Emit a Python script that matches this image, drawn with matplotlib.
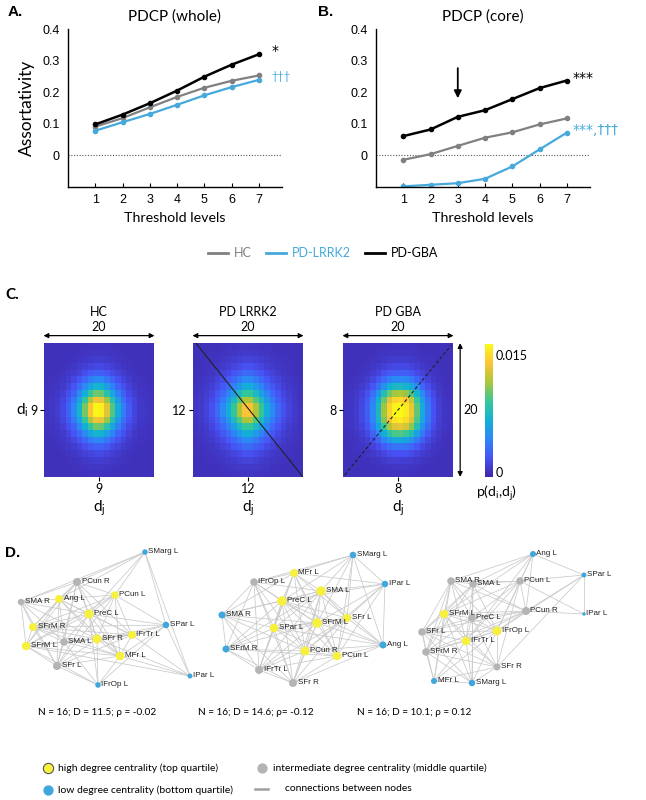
import numpy as np
import matplotlib.pyplot as plt
from matplotlib.colors import LinearSegmentedColormap
from matplotlib.lines import Line2D

# ---- panel A / B data ----
thresholds = [1, 2, 3, 4, 5, 6, 7]
whole_hc = [0.091, 0.118, 0.152, 0.185, 0.214, 0.236, 0.253]
whole_lrrk2 = [0.078, 0.105, 0.131, 0.160, 0.190, 0.216, 0.239]
whole_gba = [0.098, 0.129, 0.165, 0.205, 0.249, 0.287, 0.320]
core_hc = [-0.014, 0.004, 0.030, 0.056, 0.073, 0.098, 0.117]
core_lrrk2 = [-0.098, -0.093, -0.088, -0.074, -0.035, 0.019, 0.072]
core_gba = [0.061, 0.082, 0.122, 0.143, 0.178, 0.213, 0.237]

# ---- panel C data: row / column profiles of p(di,dj), peak amplitude ----
hc_rows = [0.01, 0.02, 0.04, 0.08, 0.15, 0.26, 0.41, 0.60, 0.80, 0.95,
           0.95, 0.80, 0.60, 0.41, 0.26, 0.15, 0.08, 0.04, 0.02, 0.01]
hc_cols = [0.01, 0.02, 0.04, 0.08, 0.15, 0.26, 0.42, 0.62, 0.82, 0.96,
           0.94, 0.78, 0.57, 0.38, 0.23, 0.13, 0.07, 0.03, 0.02, 0.01]
lrrk2_rows = [0.02, 0.04, 0.07, 0.12, 0.20, 0.30, 0.43, 0.60, 0.78, 0.93,
              0.93, 0.78, 0.60, 0.43, 0.30, 0.20, 0.12, 0.07, 0.04, 0.02]
lrrk2_cols = [0.02, 0.04, 0.07, 0.12, 0.20, 0.30, 0.43, 0.60, 0.78, 0.93,
              0.93, 0.78, 0.60, 0.43, 0.30, 0.20, 0.12, 0.07, 0.04, 0.02]
gba_rows = [0.01, 0.02, 0.04, 0.08, 0.15, 0.27, 0.45, 0.70, 0.90, 0.99,
            1.00, 0.95, 0.80, 0.58, 0.37, 0.21, 0.11, 0.05, 0.02, 0.01]
gba_cols = [0.01, 0.02, 0.04, 0.08, 0.15, 0.27, 0.45, 0.68, 0.88, 0.98,
            1.00, 0.95, 0.82, 0.60, 0.38, 0.22, 0.11, 0.05, 0.02, 0.01]
peaks = [0.0178, 0.0160, 0.0166]
background = 0.0
heat_titles = ['HC', 'PD LRRK2', 'PD GBA']
peak_degree = ['9', '12', '8']

# ---- panel D data: node names, layout (px), class, adjacency (j > i) ----
names_hc = ['SMarg L', 'PCun R', 'PCun L', 'SMA R', 'Ang L', 'PreC L', 'SPar L', 'SFrM R',
            'SMA L', 'SFr R', 'IFrTr L', 'SFrM L', 'MFr L', 'SFr L', 'IFrOp L', 'IPar L']
x_hc = [145, 77, 115, 21, 59, 89, 166, 33, 64, 97, 132, 26, 120, 57, 98, 190]
y_hc = [552, 582, 595, 602, 599, 614, 625, 627, 642, 639, 635, 646, 656, 666, 685, 676]
cls_hc = "lmhmhhlhmhhhhmll"
adj_hc = ["1 2 3 4 5 6 15", "2 3 4 5 7 8 9 10 11 12 13", "4 5 6 7 9 10 11 12 13",
          "4 5 7 8 9 11 13", "5 7 8 9 10 11 12 13", "6 7 8 9 10 11 12 13 14",
          "7 9 10 12 14 15", "8 9 10 11 12 13", "9 10 11 12 13 14", "10 11 12 13 14 15",
          "11 12 13 15", "12 13 14 15", "13 14 15", "14", "", ""]

names_lr = ['SMarg L', 'MFr L', 'IFrOp L', 'IPar L', 'SMA L', 'PreC L', 'SMA R', 'SFr L',
            'SFrM L', 'SPar L', 'SFrM R', 'PCun R', 'PCun L', 'Ang L', 'IFrTr L', 'SFr R']
x_lr = [353, 294, 254, 385, 321, 282, 222, 347, 317, 274, 226, 305, 337, 383, 259, 293]
y_lr = [555, 573, 582, 584, 591, 601, 615, 618, 623, 628, 649, 651, 656, 645, 670, 683]
cls_lr = "lhmlhhlhhhlhhlmm"
adj_lr = ["1 2 3 4 5 7 8 12 13", "2 3 4 5 6 7 8 9 11 12 14", "4 5 6 8 9 10 11 14 15",
          "4 5 7 8 11 12 13", "5 6 7 8 9 10 11 12 13 14 15", "6 7 8 9 10 11 12 13 14 15",
          "8 9 10 11 14 15", "8 9 11 12 13 14 15", "9 10 11 12 13 14 15",
          "10 11 12 13 14 15", "11 12 14 15", "12 13 14 15", "13 14 15", "15", "15", ""]

names_gba = ['Ang L', 'SPar L', 'SMA R', 'SMA L', 'PCun L', 'PCun R', 'IPar L', 'SFrM L',
             'PreC L', 'SFr L', 'IFrOp L', 'IFrTr L', 'SFrM R', 'SFr R', 'MFr L', 'SMarg L']
x_gba = [533, 584, 451, 473, 520, 526, 584, 444, 472, 422, 497, 466, 426, 497, 434, 472]
y_gba = [554, 575, 581, 584, 581, 611, 614, 614, 618, 632, 631, 641, 652, 667, 681, 683]
cls_gba = "llmmmmlhmmhhmmll"
adj_gba = ["1 2 3 4 5 7 10 11", "4 5 6 10 13", "3 4 5 7 8 9 10 11 12 14",
           "4 5 7 8 9 10 11 12 15", "5 6 7 8 10 11 13", "6 7 8 9 10 11 12", "",
           "8 9 10 11 12 13 14 15", "9 10 11 12 13 15", "10 11 12 13 14 15",
           "11 12 13 14 15", "12 13 14 15", "13 14 15", "14 15", "15", ""]

net_stats = ['N = 16; D = 11.5; ρ = -0.02', 'N = 16; D = 14.6; ρ= -0.12', 'N = 16; D = 10.1; ρ = 0.12']

GRAY = '#808080'
BLUE = '#45A9DB'
plt.rcParams['font.family'] = ['Lato', 'DejaVu Sans']

fig = plt.figure(figsize=(6.46, 8.0), dpi=100)


def px(l, t, r, b):
    return [l / 646, 1 - b / 800, (r - l) / 646, (b - t) / 800]


# ---------------- A / B ----------------
axA = fig.add_axes(px(68, 29, 282, 187))
axB = fig.add_axes(px(376, 29, 590, 187))
for ax, ttl, hc, lr, gba in [(axA, 'PDCP (whole)', whole_hc, whole_lrrk2, whole_gba),
                              (axB, 'PDCP (core)', core_hc, core_lrrk2, core_gba)]:
    ax.axhline(0, color='#555555', lw=0.8, ls=(0, (1, 1.5)))
    ax.plot(thresholds, hc, color=GRAY, lw=1.6, marker='o', ms=3)
    ax.plot(thresholds, lr, color=BLUE, lw=1.6, marker='o', ms=3)
    ax.plot(thresholds, gba, color='black', lw=1.8, marker='o', ms=3)
    ax.set_xlim(0, 7.85)
    ax.set_ylim(-0.1, 0.4)
    ax.set_yticks([0, 0.1, 0.2, 0.3, 0.4])
    ax.set_yticklabels(['0', '0.1', '0.2', '0.3', '0.4'], family='Liberation Sans', fontsize=9)
    ax.set_xticks(thresholds)
    ax.set_xticklabels([str(t) for t in thresholds], family='Liberation Sans', fontsize=9)
    ax.tick_params(axis='x', direction='in', length=3, width=0.8, pad=5)
    ax.tick_params(axis='y', length=0, pad=6)
    for s in ['top', 'right']:
        ax.spines[s].set_visible(False)
    ax.spines['left'].set_linewidth(1.0)
    ax.spines['bottom'].set_linewidth(1.0)
    ax.set_title(ttl, fontsize=11, pad=6)
    ax.set_xlabel('Threshold levels', fontsize=10.3, labelpad=4)
axA.set_ylabel('Assortativity', fontsize=12.5, labelpad=5)

axA.text(7.45, 0.33, '*', color='black', fontsize=10, va='center', family='DejaVu Sans')
axA.text(7.45, 0.251, '†††', color=BLUE, fontsize=8, va='center')
axB.text(7.2, 0.244, '***', color='black', fontsize=10, va='center', family='DejaVu Sans')
axB.text(7.2, 0.080, '***,†††', color=BLUE, fontsize=10, va='center', family='DejaVu Sans')
axB.annotate('', xy=(3, 0.172), xytext=(3, 0.285),
             arrowprops=dict(arrowstyle='-|>', color='black', lw=1.3, mutation_scale=11))

handles = [Line2D([], [], color=c, lw=2) for c in [GRAY, BLUE, 'black']]
fig.legend(handles, ['HC', 'PD-LRRK2', 'PD-GBA'], loc='center',
           bbox_to_anchor=(0.5, 1 - 253 / 800), ncol=3, frameon=False, fontsize=9,
           handlelength=1.6, handletextpad=0.5, columnspacing=1.1,
           labelcolor=[GRAY, BLUE, 'black'])

fig.text(8 / 646, 1 - 12 / 800, 'A.', fontsize=11, weight='bold', family='Liberation Sans', va='center')
fig.text(318 / 646, 1 - 12 / 800, 'B.', fontsize=11, weight='bold', family='Liberation Sans', va='center')
fig.text(5 / 646, 1 - 295 / 800, 'C.', fontsize=11, weight='bold', va='center')
fig.text(5 / 646, 1 - 553 / 800, 'D.', fontsize=11, weight='bold', family='Liberation Sans', va='center')

# ---------------- C ----------------
parula = LinearSegmentedColormap.from_list('parula', [
    (0.2422, 0.1504, 0.6603), (0.2810, 0.3228, 0.9579), (0.1786, 0.5289, 0.9682),
    (0.0689, 0.6948, 0.8394), (0.2161, 0.7843, 0.5923), (0.6720, 0.7793, 0.2227),
    (0.9970, 0.7659, 0.2199), (0.9769, 0.9839, 0.0805)])
vmin, vmax = -0.0006, 0.0164
profiles = [(hc_rows, hc_cols), (lrrk2_rows, lrrk2_cols), (gba_rows, gba_cols)]
lefts = [44, 193, 343]
for k in range(3):
    l = lefts[k]
    ax = fig.add_axes(px(l, 343, l + 110, 477))
    rows, cols = profiles[k]
    p = background + peaks[k] * np.outer(rows, cols)
    im = ax.imshow(p, cmap=parula, vmin=vmin, vmax=vmax, aspect='auto',
                   extent=(0, 20, 20, 0), interpolation='nearest')
    for s in ax.spines.values():
        s.set_visible(False)
    ax.set_xticks([10])
    ax.set_xticklabels([peak_degree[k]], fontsize=9)
    ax.set_yticks([10])
    ax.set_yticklabels([peak_degree[k]], fontsize=9)
    ax.tick_params(length=3, width=0.8, pad=1.5)
    ax.set_xlabel('d$_\\mathregular{j}$', fontsize=11, labelpad=2)
    ax.annotate('', xy=(-0.03, 1.055), xytext=(1.03, 1.055), xycoords='axes fraction',
                arrowprops=dict(arrowstyle='<|-|>', color='black', lw=0.9, mutation_scale=7))
    ax.text(0.5, 1.12, '20', transform=ax.transAxes, ha='center', va='center', fontsize=9)
    ax.text(0.5, 1.235, heat_titles[k], transform=ax.transAxes, ha='center', va='center', fontsize=9)
    if k == 0:
        ax.text(-0.2, 0.5, 'd$_\\mathregular{i}$', transform=ax.transAxes, ha='center',
                va='center', fontsize=11)
    if k == 1:
        ax.plot([0.5, 20], [0, 20], color='#222222', lw=0.8)
    if k == 2:
        ax.plot([0.3, 19.7], [19.7, 0.3], color='#222222', lw=0.8, ls=(0, (3, 2)))
        ax.annotate('', xy=(1.065, -0.02), xytext=(1.065, 1.02), xycoords='axes fraction',
                    arrowprops=dict(arrowstyle='<|-|>', color='black', lw=0.9, mutation_scale=7))
        ax.text(1.16, 0.5, '20', transform=ax.transAxes, ha='center', va='center', fontsize=9)
    ax.set_xlim(0, 20)
    ax.set_ylim(20, 0)

cax = fig.add_axes(px(485, 344, 493, 477))
cb = fig.colorbar(im, cax=cax, ticks=[0, 0.015])
cb.ax.set_yticklabels(['0', '0.015'], fontsize=9)
cb.ax.tick_params(length=0, pad=2)
cb.outline.set_visible(False)
fig.text(497 / 646, 1 - 493 / 800, 'p(d$_\\mathregular{i}$,d$_\\mathregular{j}$)',
         ha='center', va='center', fontsize=10)

# ---------------- D ----------------
axD = fig.add_axes(px(0, 530, 646, 800))
axD.set_xlim(0, 646)
axD.set_ylim(800, 530)
axD.axis('off')

node_color = {'h': '#F7F03C', 'm': '#B4B4B4', 'l': '#3FA7DE'}
for names, xs, ys, cls, adj in [(names_hc, x_hc, y_hc, cls_hc, adj_hc),
                                (names_lr, x_lr, y_lr, cls_lr, adj_lr),
                                (names_gba, x_gba, y_gba, cls_gba, adj_gba)]:
    edges = [(i, int(j)) for i, row in enumerate(adj) for j in row.split()]
    deg = np.zeros(len(names))
    for i, j in edges:
        axD.plot([xs[i], xs[j]], [ys[i], ys[j]], color='#C9C9C9', lw=0.55, zorder=1)
        deg[i] += 1
        deg[j] += 1
    diam = 2.0 + 0.5 * deg
    axD.scatter(xs, ys, s=(0.72 * diam) ** 2, c=[node_color[c] for c in cls],
                linewidths=0, zorder=2)
    for n, x, y, d in zip(names, xs, ys, diam):
        axD.text(x + d / 2 + 0.5, y, n, fontsize=5.8, family='Liberation Sans',
                 color='#222222', va='center', ha='left', zorder=3)

for x, s in zip([38, 198, 357], net_stats):
    axD.text(x, 713, s, fontsize=7.2, va='center', ha='left')

axD.scatter([48], [768], s=55, c='#F7F03C', edgecolors='#555555', linewidths=0.8)
axD.scatter([262], [768], s=55, c='#B4B4B4', linewidths=0)
axD.scatter([48], [790], s=55, c='#3FA7DE', linewidths=0)
axD.plot([255, 268], [789, 789], color='#A0A0A0', lw=1.8)
axD.text(58, 768, 'high degree centrality (top quartile)', fontsize=7.5, va='center')
axD.text(273, 768, 'intermediate degree centrality (middle quartile)', fontsize=7.5, va='center')
axD.text(58, 790, 'low degree centrality (bottom quartile)', fontsize=7.5, va='center')
axD.text(285, 789, 'connections between nodes', fontsize=7.5, va='center')

fig.savefig('out.png', dpi=100)
